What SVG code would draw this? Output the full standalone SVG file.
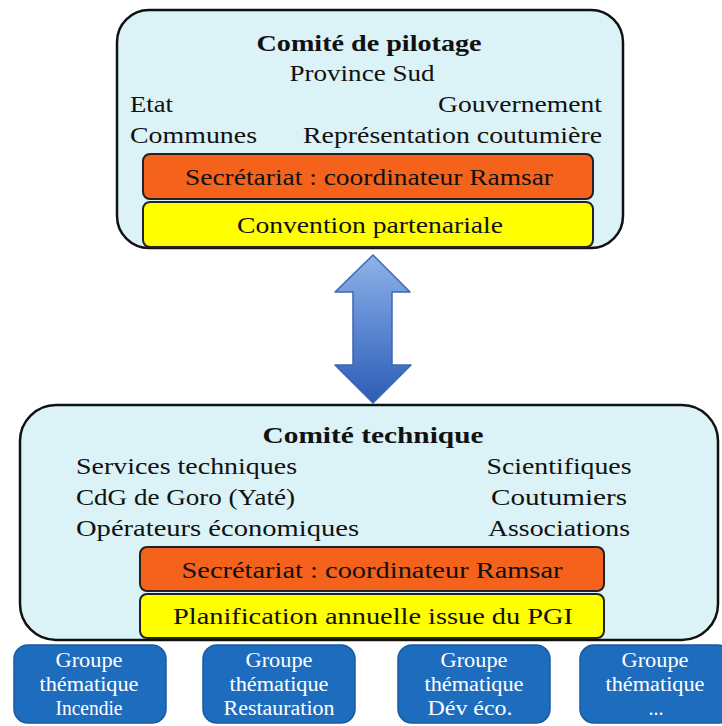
<svg xmlns="http://www.w3.org/2000/svg" width="722" height="726" viewBox="0 0 722 726">
<defs>
<linearGradient id="arrowGrad" x1="0" y1="0" x2="0" y2="1">
<stop offset="0" stop-color="#8fb3e8"/>
<stop offset="0.5" stop-color="#5b87d2"/>
<stop offset="1" stop-color="#2c5cb4"/>
</linearGradient>
<style>
.panel{fill:#dbf2f6;stroke:#111;stroke-width:2.5}
.orange{fill:#f4621c;stroke:#222;stroke-width:2}
.yellow{fill:#ffff00;stroke:#222;stroke-width:2}
.grp{fill:#1e6cbe;stroke:#175aa0;stroke-width:1.5}
.t{font-family:"Liberation Serif","Times New Roman",serif;font-size:24px;fill:#111}
.b{font-weight:bold}
.g{font-family:"Liberation Serif","Times New Roman",serif;font-size:20px;fill:#fff}
</style>
</defs>
<rect width="722" height="726" fill="#ffffff"/>

<g id="connectors">
<polygon points="373,255 410,292 392,292 392,365 411,365 373,403 335,365 353,365 353,292 335,292" fill="url(#arrowGrad)" stroke="#3d66b2" stroke-width="1.5" stroke-linejoin="round"/>
</g>

<g id="comite-pilotage">
<rect class="panel" x="117" y="10" width="506" height="238" rx="32"/>
<text class="t b" x="369" y="51" text-anchor="middle" textLength="225" lengthAdjust="spacingAndGlyphs">Comité de pilotage</text>
<text class="t" x="362" y="81" text-anchor="middle" textLength="145" lengthAdjust="spacingAndGlyphs">Province Sud</text>
<text class="t" x="130" y="112" textLength="43" lengthAdjust="spacingAndGlyphs">Etat</text>
<text class="t" x="602" y="112" text-anchor="end" textLength="164" lengthAdjust="spacingAndGlyphs">Gouvernement</text>
<text class="t" x="130" y="143" textLength="127" lengthAdjust="spacingAndGlyphs">Communes</text>
<text class="t" x="602" y="143" text-anchor="end" textLength="299" lengthAdjust="spacingAndGlyphs">Représentation coutumière</text>
</g>
<g id="secretariat-pilotage">
<rect class="orange" x="143" y="154" width="450" height="45" rx="7"/>
<text class="t" x="369" y="185" text-anchor="middle" textLength="368" lengthAdjust="spacingAndGlyphs">Secrétariat : coordinateur Ramsar</text>
</g>
<g id="convention">
<rect class="yellow" x="143" y="202" width="450" height="45" rx="7"/>
<text class="t" x="370" y="233" text-anchor="middle" textLength="266" lengthAdjust="spacingAndGlyphs">Convention partenariale</text>
</g>

<g id="comite-technique">
<rect class="panel" x="20" y="405" width="698" height="235" rx="36"/>
<text class="t b" x="373" y="443" text-anchor="middle" textLength="221" lengthAdjust="spacingAndGlyphs">Comité technique</text>
<text class="t" x="76" y="474" textLength="221" lengthAdjust="spacingAndGlyphs">Services techniques</text>
<text class="t" x="76" y="505" textLength="219" lengthAdjust="spacingAndGlyphs">CdG de Goro (Yaté)</text>
<text class="t" x="76" y="536" textLength="283" lengthAdjust="spacingAndGlyphs">Opérateurs économiques</text>
<text class="t" x="559" y="474" text-anchor="middle" textLength="145" lengthAdjust="spacingAndGlyphs">Scientifiques</text>
<text class="t" x="559" y="505" text-anchor="middle" textLength="136" lengthAdjust="spacingAndGlyphs">Coutumiers</text>
<text class="t" x="559" y="536" text-anchor="middle" textLength="142" lengthAdjust="spacingAndGlyphs">Associations</text>
</g>
<g id="secretariat-technique">
<rect class="orange" x="140" y="547" width="464" height="44" rx="7"/>
<text class="t" x="372" y="578" text-anchor="middle" textLength="381" lengthAdjust="spacingAndGlyphs">Secrétariat : coordinateur Ramsar</text>
</g>
<g id="planification">
<rect class="yellow" x="140" y="594" width="464" height="44" rx="7"/>
<text class="t" x="373" y="624" text-anchor="middle" textLength="400" lengthAdjust="spacingAndGlyphs">Planification annuelle issue du PGI</text>
</g>

<g id="groupe-incendie">
<rect class="grp" x="14" y="645" width="152" height="78" rx="14"/>
<text class="g" x="89" y="667" text-anchor="middle" textLength="67" lengthAdjust="spacingAndGlyphs">Groupe</text>
<text class="g" x="89" y="691" text-anchor="middle" textLength="99" lengthAdjust="spacingAndGlyphs">thématique</text>
<text class="g" x="89" y="715" text-anchor="middle" textLength="67" lengthAdjust="spacingAndGlyphs">Incendie</text>
</g>
<g id="groupe-restauration">
<rect class="grp" x="203" y="645" width="152" height="78" rx="14"/>
<text class="g" x="279" y="667" text-anchor="middle" textLength="67" lengthAdjust="spacingAndGlyphs">Groupe</text>
<text class="g" x="279" y="691" text-anchor="middle" textLength="99" lengthAdjust="spacingAndGlyphs">thématique</text>
<text class="g" x="279" y="715" text-anchor="middle" textLength="111" lengthAdjust="spacingAndGlyphs">Restauration</text>
</g>
<g id="groupe-dev-eco">
<rect class="grp" x="398" y="645" width="152" height="78" rx="14"/>
<text class="g" x="474" y="667" text-anchor="middle" textLength="67" lengthAdjust="spacingAndGlyphs">Groupe</text>
<text class="g" x="474" y="691" text-anchor="middle" textLength="99" lengthAdjust="spacingAndGlyphs">thématique</text>
<text class="g" x="470" y="715" text-anchor="middle" textLength="85" lengthAdjust="spacingAndGlyphs">Dév éco.</text>
</g>
<g id="groupe-autre">
<rect class="grp" x="580" y="645" width="152" height="78" rx="14"/>
<text class="g" x="655" y="667" text-anchor="middle" textLength="67" lengthAdjust="spacingAndGlyphs">Groupe</text>
<text class="g" x="655" y="691" text-anchor="middle" textLength="99" lengthAdjust="spacingAndGlyphs">thématique</text>
<text class="g" x="656" y="715" text-anchor="middle">...</text>
</g>
</svg>
